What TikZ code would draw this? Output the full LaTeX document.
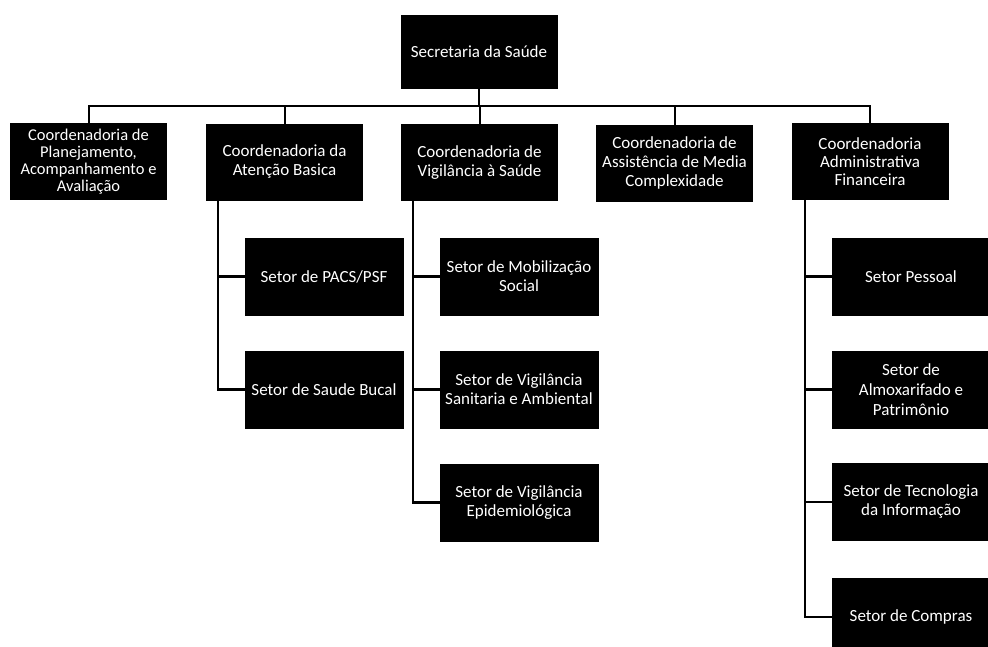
\documentclass[tikz,border=0pt]{standalone}
\usepackage{fontspec}
\setmainfont{Carlito}
\begin{document}
\begin{tikzpicture}[x=1pt,y=-1pt,
  box/.style={draw=black,fill=black,text=white,inner sep=0pt,align=center,
    font=\fontsize{17}{19}\selectfont},
  coordbox/.style={box,minimum width=156pt,minimum height=76pt},
  subbox/.style={box,minimum width=158pt,minimum height=77pt},
  topbox/.style={box,minimum width=156pt,minimum height=73pt},
  link/.style={draw=black,line width=2.4pt},
  buslink/.style={draw=black,line width=2pt}]
\path[use as bounding box] (0,0) rectangle (988,646);
\clip (0,0) rectangle (988,646);

\node[topbox] (top) at (479,51.5) {Secretaria da Saúde};

\node[coordbox,font=\fontsize{16.5}{16.8}\selectfont] (c1) at (88.5,161.5) {Coordenadoria de\\Planejamento,\\Acompanhamento e\\Avaliação};
\node[coordbox] (c2) at (284.5,162) {Coordenadoria da\\Atenção Basica};
\node[coordbox] (c3) at (479.5,162.5) {Coordenadoria de\\Vigilância à Saúde};
\node[coordbox] (c4) at (674.5,163) {Coordenadoria de\\Assistência de Media\\Complexidade};
\node[coordbox,font=\fontsize{17}{18}\selectfont] (c5) at (870,161.5) {Coordenadoria\\Administrativa\\Financeira};

\node[subbox] (s21) at (324,276.5) {Setor de PACS/PSF};
\node[subbox] (s22) at (324,389.5) {Setor de Saude Bucal};

\node[subbox] (s31) at (519,276.5) {Setor de Mobilização\\Social};
\node[subbox] (s32) at (519,389.5) {Setor de Vigilância\\Sanitaria e Ambiental};
\node[subbox] (s33) at (519,502.5) {Setor de Vigilância\\Epidemiológica};

\node[subbox] (s51) at (911,276.5) {Setor Pessoal};
\node[subbox,font=\fontsize{17}{20}\selectfont] (s52) at (911,389.5) {Setor de\\Almoxarifado e\\Patrimônio};
\node[subbox] (s53) at (911,502) {Setor de Tecnologia\\da Informação};
\node[subbox] (s54) at (911,617) {Setor de Compras};

\coordinate (bus) at (0,106);
\coordinate (v2) at (218,0);
\coordinate (v3) at (413,0);
\coordinate (v5) at (805,0);

% bus
\draw[buslink] (c1.north) -- (c1.north |- bus) -- (c5.north |- bus) -- (c5.north);
\draw[buslink] (top.south) -- (top.south |- bus);
\draw[buslink] (c2.north) -- (c2.north |- bus);
\draw[buslink] (c3.north) -- (c3.north |- bus);
\draw[buslink] (c4.north) -- (c4.north |- bus);

% Atenção Básica
\draw[link] (v2 |- c2.south) |- (s22.west);
\draw[link] (v2 |- s21.west) -- (s21.west);

% Vigilância
\draw[link] (v3 |- c3.south) |- (s33.west);
\draw[link] (v3 |- s31.west) -- (s31.west);
\draw[link] (v3 |- s32.west) -- (s32.west);

% Administrativa
\draw[link] (v5 |- c5.south) |- (s54.west);
\draw[link] (v5 |- s51.west) -- (s51.west);
\draw[link] (v5 |- s52.west) -- (s52.west);
\draw[link] (v5 |- s53.west) -- (s53.west);
\end{tikzpicture}
\end{document}
